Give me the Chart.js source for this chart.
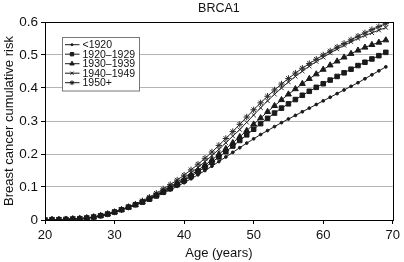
<!DOCTYPE html>
<html><head><meta charset="utf-8">
<script src="https://cdn.jsdelivr.net/npm/chart.js@4/dist/chart.umd.min.js"></script>
<style>html,body{margin:0;padding:0;background:#fff;overflow:hidden}</style>
</head><body>
<canvas id="c" width="404" height="262" style="display:block;width:404px;height:262px"></canvas>
<script>
const chartTitle = "BRCA1";
const xTitle = "Age (years)";
const yTitle = "Breast cancer cumulative risk";
const seriesLabels = ["<1920", "1920–1929", "1930–1939", "1940–1949", "1950+"];
const ages = [20,21,22,23,24,25,26,27,28,29,30,31,32,33,34,35,36,37,38,39,40,41,42,43,44,45,46,47,48,49,50,51,52,53,54,55,56,57,58,59,60,61,62,63,64,65,66,67,68,69];
const riskPre1920 = [0,0.001,0.001,0.002,0.003,0.004,0.006,0.009,0.013,0.018,0.024,0.031,0.039,
  0.045,0.053,0.062,0.071,0.081,0.091,0.102,0.113,0.125,0.137,0.150,0.163,0.177,0.191,0.205,
  0.219,0.233,0.246,0.259,0.271,0.283,0.295,0.306,0.317,0.328,0.339,0.350,0.361,0.372,0.383,0.394,0.405,0.416,0.428,0.440,0.452,0.464];
const risk1920s = [0,0.001,0.001,0.002,0.003,0.004,0.006,0.009,0.013,0.018,0.024,0.031,0.039,
  0.046,0.054,0.063,0.073,0.084,0.095,0.107,0.119,0.132,0.146,0.160,0.175,0.191,0.207,0.224,
  0.241,0.258,0.275,0.292,0.308,0.324,0.339,0.352,0.365,0.378,0.390,0.402,0.413,0.424,0.435,0.446,0.457,0.468,0.478,0.488,0.498,0.508];
const risk1930s = [0,0.001,0.001,0.002,0.003,0.004,0.006,0.009,0.013,0.018,0.024,0.031,0.039,
  0.046,0.055,0.065,0.075,0.086,0.098,0.110,0.123,0.137,0.151,0.166,0.182,0.199,0.216,0.234,
  0.252,0.271,0.290,0.309,0.328,0.346,0.364,0.381,0.397,0.413,0.428,0.442,0.456,0.469,0.481,0.493,0.504,0.514,0.523,0.531,0.538,0.545];
const risk1940s = [0,0.001,0.001,0.002,0.003,0.004,0.006,0.009,0.013,0.018,0.024,0.031,0.039,
  0.047,0.056,0.066,0.077,0.089,0.101,0.114,0.128,0.143,0.159,0.177,
  0.195,0.214,0.234,0.254,0.274,0.296,0.318,0.340,0.361,0.381,0.400,0.418,0.435,0.451,0.466,0.480,0.493,0.506,0.518,0.529,0.540,0.550,0.559,0.567,0.575,0.583];
const risk1950plus = [0,0.001,0.001,0.002,0.003,0.004,0.006,0.009,0.013,0.018,0.024,0.031,0.039,
  0.048,0.058,0.069,0.081,0.094,0.107,0.121,0.136,0.152,0.169,0.187,0.206,0.226,0.247,0.268,
  0.290,0.312,0.334,0.355,0.375,0.394,0.412,0.429,0.445,0.460,0.474,0.487,0.500,0.512,0.524,0.535,0.546,0.557,0.567,0.577,0.586,0.595];
const xTicks = [20,30,40,50,60,70];
const yTicks = [0,0.1,0.2,0.3,0.4,0.5,0.6];

const FONT = "'Liberation Sans', Arial, Helvetica, sans-serif";
const allSeries = [riskPre1920, risk1920s, risk1930s, risk1940s, risk1950plus];
const styles = [
  {pointStyle:'circle', pointRadius:1.4, color:'#1a1a1a'},
  {pointStyle:'rect', pointRadius:3.2, color:'#1a1a1a'},
  {pointStyle:'triangle', pointRadius:3.4, color:'#1a1a1a'},
  {pointStyle:'crossRot', pointRadius:3, color:'#2a2a2a'},
  {pointStyle:'star', pointRadius:3.2, color:'#2a2a2a'}
];
const datasets = allSeries.map((s, i) => ({
  label: seriesLabels[i],
  data: s.map((v, j) => ({x: ages[j], y: v})),
  borderColor: styles[i].color,
  backgroundColor: styles[i].color,
  pointBorderColor: styles[i].color,
  pointBackgroundColor: styles[i].color,
  borderWidth: 1,
  pointBorderWidth: 1,
  tension: 0,
  pointStyle: styles[i].pointStyle,
  pointRadius: styles[i].pointRadius
}));

const decor = {
  id: 'decor',
  afterDraw(chart) {
    const ctx = chart.ctx, a = chart.chartArea;
    ctx.save();
    ctx.strokeStyle = '#000'; ctx.lineWidth = 1;
    ctx.strokeRect(Math.round(a.left) + 0.5, Math.round(a.top) + 0.5, Math.round(a.right - a.left), Math.round(a.bottom - a.top));
    ctx.fillStyle = '#111';
    ctx.font = '12.5px ' + FONT;
    ctx.textAlign = 'center'; ctx.textBaseline = 'middle';
    ctx.fillText(chartTitle, (a.left + a.right) / 2, 9);
    const bx = 62.5, by = 37.5, bw = 77, bh = 53.5;
    ctx.fillStyle = '#fff';
    ctx.fillRect(bx, by, bw, bh);
    ctx.strokeStyle = '#777';
    ctx.strokeRect(bx, by, bw, bh);
    ctx.font = '10.5px ' + FONT;
    ctx.textAlign = 'left';
    chart.data.datasets.forEach((ds, i) => {
      const y = 44.7 + i * 9.5;
      ctx.strokeStyle = '#1a1a1a'; ctx.fillStyle = '#1a1a1a'; ctx.lineWidth = 1;
      ctx.beginPath(); ctx.moveTo(65, y); ctx.lineTo(79.5, y); ctx.stroke();
      Chart.helpers.drawPoint(ctx, {pointStyle: ds.pointStyle, radius: ds.pointRadius * 0.75, borderWidth: 1, rotation: 0}, 72, y);
      ctx.fillStyle = '#111';
      ctx.fillText(ds.label, 82.5, y + 0.5);
    });
    ctx.restore();
  }
};

new Chart(document.getElementById('c'), {
  type: 'line',
  data: { datasets },
  options: {
    responsive: false,
    devicePixelRatio: 1,
    animation: false,
    layout: { padding: { top: 22, right: 9, left: 0, bottom: 0 } },
    plugins: { legend: { display: false }, title: { display: false }, tooltip: { enabled: false } },
    elements: { point: { hoverRadius: 0 } },
    scales: {
      x: {
        type: 'linear', min: 20, max: 70,
        afterBuildTicks: s => { s.ticks = xTicks.map(v => ({value: v})); },
        afterFit: s => { s.height = 42; },
        grid: { drawOnChartArea: false, tickLength: 4, tickColor: '#000' },
        border: { color: '#000', width: 1 },
        ticks: { color: '#111', font: { family: FONT, size: 13 }, padding: 4, maxRotation: 0 },
        title: { display: true, text: xTitle, color: '#111', font: { family: FONT, size: 13 }, padding: { top: 0, bottom: 1 } }
      },
      y: {
        min: 0, max: 0.6,
        afterBuildTicks: s => { s.ticks = yTicks.map(v => ({value: v})); },
        afterFit: s => { s.width = 45; },
        grid: { color: '#b4b4b4', tickLength: 4, tickColor: '#000' },
        border: { color: '#000', width: 1 },
        ticks: { color: '#111', font: { family: FONT, size: 13.5 }, padding: 3, callback: v => String(v) },
        title: { display: true, text: yTitle, color: '#111', font: { family: FONT, size: 13 }, padding: { top: 2, bottom: 2 } }
      }
    }
  },
  plugins: [decor]
});
</script>
</body></html>
